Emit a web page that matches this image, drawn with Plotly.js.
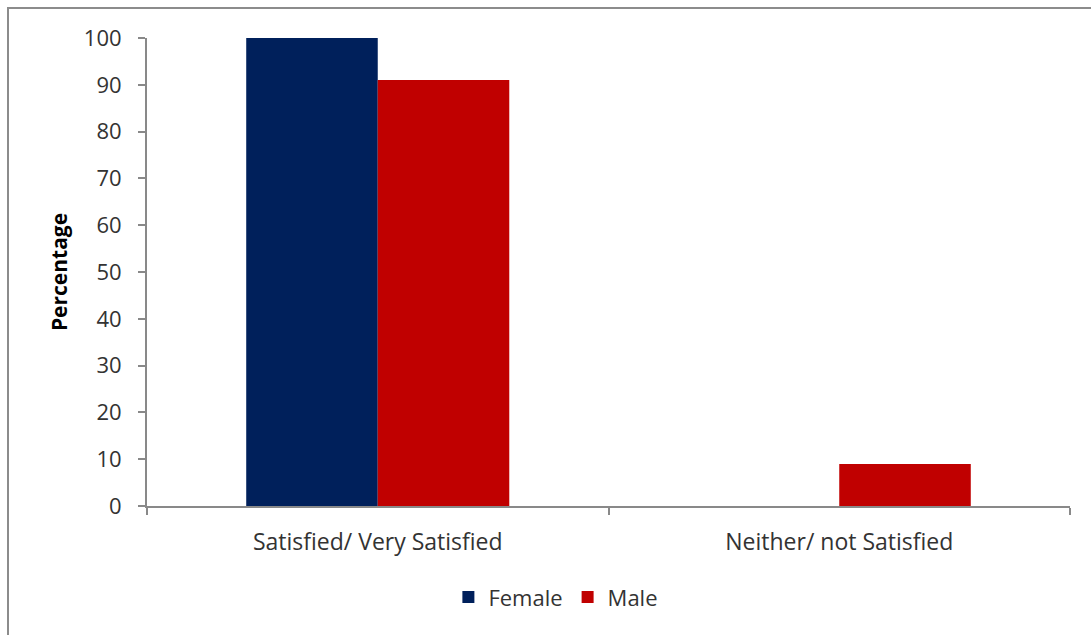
<!DOCTYPE html>
<html>
<head>
<meta charset="utf-8">
<script src="https://cdn.plot.ly/plotly-3.0.1.min.js"></script>
<style>html,body{margin:0;padding:0;background:#fff;}#chart{width:1091px;height:635px;}</style>
</head>
<body>
<div id="chart"></div>
<script>
const categories = ["Satisfied/ Very Satisfied", "Neither/ not Satisfied"];
const femaleValues = [100, 0];
const maleValues = [91, 9];
const yTicks = [0, 10, 20, 30, 40, 50, 60, 70, 80, 90, 100];

const font = "Open Sans";
const traces = [
  {type: "bar", name: "Female", x: categories, y: femaleValues, marker: {color: "#00205B"}},
  {type: "bar", name: "Male", x: categories, y: maleValues, marker: {color: "#C00000"}}
];
const layout = {
  width: 1091, height: 635,
  margin: {l: 147, r: 21, t: 38, b: 129},
  paper_bgcolor: "#fff", plot_bgcolor: "#fff",
  barmode: "group", bargap: 0.43, bargroupgap: 0,
  font: {family: font, color: "#333", size: 22},
  showlegend: true,
  legend: {orientation: "h", x: 0.443, xanchor: "center", y: -0.195, yanchor: "middle", font: {family: font, size: 22, color: "#333"}, itemwidth: 30},
  xaxis: {
    showline: true, linecolor: "#898989", linewidth: 2,
    ticks: "outside", tickson: "boundaries", ticklen: 7, tickcolor: "#898989", tickwidth: 2,
    showgrid: false, tickfont: {family: font, size: 23, color: "#333"}, automargin: false,
    ticklabelstandoff: 14
  },
  yaxis: {
    range: [0, 100], tickvals: yTicks, showline: true, linecolor: "#898989", linewidth: 2,
    ticks: "outside", ticklen: 7, tickcolor: "#898989", tickwidth: 2, showgrid: false, zeroline: false,
    tickfont: {family: font, size: 22, color: "#333"}, automargin: false, ticklabelstandoff: 12,
    title: {text: "<b>Percentage</b>", font: {family: font, size: 21, color: "#000"}, standoff: 10}
  },
  shapes: [{
    type: "rect", xref: "paper", yref: "paper",
    x0: -0.1506, x1: 1.1, y0: -0.4, y1: 1.0641,
    line: {color: "#8c8c8c", width: 2}, fillcolor: "rgba(0,0,0,0)", layer: "below"
  }]
};
Plotly.newPlot("chart", traces, layout, {displayModeBar: false, staticPlot: true});
</script>
</body>
</html>
